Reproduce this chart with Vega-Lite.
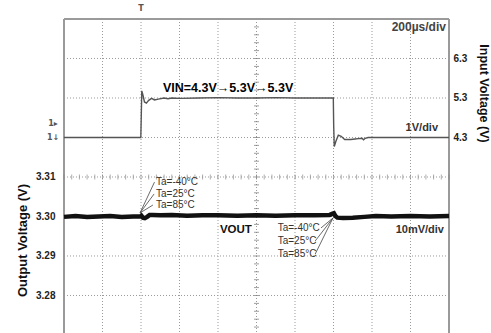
{
  "$schema": "https://vega.github.io/schema/vega-lite/v6.json",
  "width": 385,
  "height": 314,
  "autosize": {"type": "none"},
  "padding": {"left": 64, "top": 19, "right": 42, "bottom": 0},
  "background": "white",
  "config": {"view": {"stroke": null}, "font": "Liberation Sans"},
  "datasets": {
    "vgrid": [{"t": 200}, {"t": 400}, {"t": 600}, {"t": 800}, {"t": 1000}, {"t": 1200}, {"t": 1400}, {"t": 1600}, {"t": 1800}],
    "frame": [{"t": 0}, {"t": 2000}],
    "hgrid": [{"v": 3.28}, {"v": 3.29}, {"v": 3.3}, {"v": 3.31}, {"v": 3.32}, {"v": 3.33}, {"v": 3.34}],
    "top": [{"v": 3.35}],
    "hticks": [{"t":0},{"t":40},{"t":80},{"t":120},{"t":160},{"t":200},{"t":240},{"t":280},{"t":320},{"t":360},{"t":400},{"t":440},{"t":480},{"t":520},{"t":560},{"t":600},{"t":640},{"t":680},{"t":720},{"t":760},{"t":800},{"t":840},{"t":880},{"t":920},{"t":960},{"t":1000},{"t":1040},{"t":1080},{"t":1120},{"t":1160},{"t":1200},{"t":1240},{"t":1280},{"t":1320},{"t":1360},{"t":1400},{"t":1440},{"t":1480},{"t":1520},{"t":1560},{"t":1600},{"t":1640},{"t":1680},{"t":1720},{"t":1760},{"t":1800},{"t":1840},{"t":1880},{"t":1920},{"t":1960},{"t":2000}],
    "vticks": [{"v":3.272},{"v":3.274},{"v":3.276},{"v":3.278},{"v":3.28},{"v":3.282},{"v":3.284},{"v":3.286},{"v":3.288},{"v":3.29},{"v":3.292},{"v":3.294},{"v":3.296},{"v":3.298},{"v":3.3},{"v":3.302},{"v":3.304},{"v":3.306},{"v":3.308},{"v":3.31},{"v":3.312},{"v":3.314},{"v":3.316},{"v":3.318},{"v":3.32},{"v":3.322},{"v":3.324},{"v":3.326},{"v":3.328},{"v":3.33},{"v":3.332},{"v":3.334},{"v":3.336},{"v":3.338},{"v":3.34},{"v":3.342},{"v":3.344},{"v":3.346},{"v":3.348}],
    "vout": [
      {"t":0,"v":3.2999},{"t":60,"v":3.3001},{"t":120,"v":3.2999},{"t":180,"v":3.3},{"t":240,"v":3.3001},{"t":300,"v":3.2999},{"t":360,"v":3.3},{"t":398,"v":3.3},{"t":402,"v":3.3002},{"t":410,"v":3.2997},{"t":420,"v":3.2996},{"t":432,"v":3.2999},{"t":445,"v":3.3004},{"t":460,"v":3.3004},{"t":500,"v":3.3003},{"t":560,"v":3.3004},{"t":640,"v":3.3002},{"t":720,"v":3.3003},{"t":800,"v":3.3003},{"t":900,"v":3.3002},{"t":1000,"v":3.3003},{"t":1100,"v":3.3002},{"t":1200,"v":3.3003},{"t":1300,"v":3.3003},{"t":1380,"v":3.3004},{"t":1396,"v":3.3007},{"t":1402,"v":3.3008},{"t":1410,"v":3.3001},{"t":1420,"v":3.2997},{"t":1450,"v":3.2996},{"t":1500,"v":3.2997},{"t":1560,"v":3.2999},{"t":1620,"v":3.3001},{"t":1700,"v":3.3},{"t":1800,"v":3.3001},{"t":1900,"v":3.3},{"t":2000,"v":3.3001}
    ],
    "vin": [
      {"t":0,"vin":4.3},{"t":399,"vin":4.3},{"t":401,"vin":4.75},{"t":404,"vin":5.48},{"t":410,"vin":5.38},{"t":418,"vin":5.2},{"t":428,"vin":5.17},{"t":440,"vin":5.24},{"t":455,"vin":5.29},{"t":470,"vin":5.25},{"t":490,"vin":5.27},{"t":520,"vin":5.3},{"t":540,"vin":5.28},{"t":560,"vin":5.3},{"t":600,"vin":5.29},{"t":700,"vin":5.3},{"t":800,"vin":5.31},{"t":900,"vin":5.3},{"t":1000,"vin":5.3},{"t":1100,"vin":5.31},{"t":1200,"vin":5.3},{"t":1300,"vin":5.3},{"t":1399,"vin":5.3},{"t":1401,"vin":4.6},{"t":1404,"vin":4.07},{"t":1412,"vin":4.2},{"t":1425,"vin":4.36},{"t":1440,"vin":4.33},{"t":1458,"vin":4.25},{"t":1490,"vin":4.25},{"t":1512,"vin":4.26},{"t":1530,"vin":4.27},{"t":1548,"vin":4.28},{"t":1556,"vin":4.24},{"t":1565,"vin":4.28},{"t":1580,"vin":4.3},{"t":2000,"vin":4.3}
    ],
    "labels": [
      {"t": 514, "v": 3.3325, "text": "VIN=4.3V→5.3V→5.3V", "kind": "vin"},
      {"t": 1984, "v": 3.3479, "text": "200µs/div", "kind": "div12"},
      {"t": 1943, "v": 3.3223, "text": "1V/div", "kind": "div"},
      {"t": 1974, "v": 3.2966, "text": "10mV/div", "kind": "div"},
      {"t": 810, "v": 3.2966, "text": "VOUT", "kind": "vout"},
      {"t": 478, "v": 3.3087, "text": "Ta=-40°C", "kind": "ta"},
      {"t": 478, "v": 3.3057, "text": "Ta=25°C", "kind": "ta"},
      {"t": 478, "v": 3.3029, "text": "Ta=85°C", "kind": "ta"},
      {"t": 1110, "v": 3.2971, "text": "Ta=-40°C", "kind": "ta"},
      {"t": 1110, "v": 3.2938, "text": "Ta=25°C", "kind": "ta"},
      {"t": 1110, "v": 3.2905, "text": "Ta=85°C", "kind": "ta"},
      {"t": 400, "v": 3.3525, "text": "T", "kind": "mark"},
      {"t": -57, "v": 3.3234, "text": "1▸", "kind": "mark"},
      {"t": -57, "v": 3.3198, "text": "1↓", "kind": "mark"}
    ],
    "leaders": [
      {"t": 470, "v": 3.3087, "t2": 395, "v2": 3.3009},
      {"t": 468, "v": 3.3057, "t2": 395, "v2": 3.3009},
      {"t": 462, "v": 3.3029, "t2": 395, "v2": 3.3009},
      {"t": 1335, "v": 3.2971, "t2": 1397, "v2": 3.2996},
      {"t": 1305, "v": 3.2938, "t2": 1397, "v2": 3.2996},
      {"t": 1305, "v": 3.2905, "t2": 1397, "v2": 3.2996}
    ]
  },
  "layer": [
    {
      "data": {"name": "vgrid"},
      "mark": {"type": "rule", "color": "#9a9a9a", "strokeWidth": 1, "strokeDash": [1, 2]},
      "encoding": {"x": {"field": "t", "type": "quantitative", "scale": {"domain": [0, 2000], "nice": false, "zero": false}, "axis": null}}
    },
    {
      "data": {"name": "frame"},
      "mark": {"type": "rule", "color": "#9a9a9a", "strokeWidth": 2},
      "encoding": {"x": {"field": "t", "type": "quantitative", "scale": {"domain": [0, 2000], "nice": false, "zero": false}, "axis": null}}
    },
    {
      "data": {"name": "hgrid"},
      "mark": {"type": "rule", "color": "#9a9a9a", "strokeWidth": 1, "strokeDash": [1, 2]},
      "encoding": {
        "y": {
          "field": "v", "type": "quantitative",
          "scale": {"domain": [3.2705, 3.35], "nice": false, "zero": false},
          "axis": {
            "orient": "left", "values": [3.28, 3.29, 3.3, 3.31], "format": ".2f",
            "domain": false, "ticks": false, "grid": false,
            "labelFont": "Liberation Sans", "labelFontWeight": "bold", "labelFontSize": 10, "labelColor": "#222", "labelPadding": 9,
            "title": "Output Voltage (V)", "titleFont": "Liberation Sans", "titleFontSize": 13, "titleFontWeight": "bold", "titleColor": "#111",
            "titleX": -42, "titleY": 221, "titleAngle": -90, "titleAlign": "center", "titleBaseline": "middle"
          }
        }
      }
    },
    {
      "data": {"name": "top"},
      "mark": {"type": "rule", "color": "#9a9a9a", "strokeWidth": 2},
      "encoding": {"y": {"field": "v", "type": "quantitative", "scale": {"domain": [3.2705, 3.35], "nice": false, "zero": false}, "axis": null}}
    },
    {
      "data": {"name": "hticks"},
      "mark": {"type": "tick", "orient": "vertical", "color": "#8a8a8a", "size": 5, "thickness": 1},
      "encoding": {
        "x": {"field": "t", "type": "quantitative", "scale": {"domain": [0, 2000], "nice": false, "zero": false}, "axis": null},
        "y": {"datum": 3.31, "type": "quantitative", "scale": {"domain": [3.2705, 3.35], "nice": false, "zero": false}, "axis": null}
      }
    },
    {
      "data": {"name": "vticks"},
      "mark": {"type": "tick", "orient": "horizontal", "color": "#777", "size": 5, "thickness": 1},
      "encoding": {
        "x": {"datum": 1000, "type": "quantitative", "scale": {"domain": [0, 2000], "nice": false, "zero": false}, "axis": null},
        "y": {"field": "v", "type": "quantitative", "scale": {"domain": [3.2705, 3.35], "nice": false, "zero": false}, "axis": null}
      }
    },
    {
      "data": {"name": "vout"},
      "mark": {"type": "line", "color": "#111", "strokeWidth": 4.5},
      "encoding": {
        "x": {"field": "t", "type": "quantitative", "scale": {"domain": [0, 2000], "nice": false, "zero": false}, "axis": null},
        "y": {"field": "v", "type": "quantitative", "scale": {"domain": [3.2705, 3.35], "nice": false, "zero": false}, "axis": null}
      }
    },
    {
      "data": {"name": "leaders"},
      "mark": {"type": "rule", "color": "#444", "strokeWidth": 0.8},
      "encoding": {
        "x": {"field": "t", "type": "quantitative", "scale": {"domain": [0, 2000], "nice": false, "zero": false}, "axis": null},
        "x2": {"field": "t2"},
        "y": {"field": "v", "type": "quantitative", "scale": {"domain": [3.2705, 3.35], "nice": false, "zero": false}, "axis": null},
        "y2": {"field": "v2"}
      }
    },
    {
      "data": {"name": "labels"},
      "transform": [{"filter": "datum.kind === 'vin'"}],
      "mark": {"type": "text", "font": "Liberation Sans", "fontWeight": "bold", "fontSize": 12.5, "align": "left", "baseline": "middle", "color": "#000"},
      "encoding": {
        "x": {"field": "t", "type": "quantitative", "scale": {"domain": [0, 2000], "nice": false, "zero": false}, "axis": null},
        "y": {"field": "v", "type": "quantitative", "scale": {"domain": [3.2705, 3.35], "nice": false, "zero": false}, "axis": null},
        "text": {"field": "text"}
      }
    },
    {
      "data": {"name": "labels"},
      "transform": [{"filter": "datum.kind === 'div12'"}],
      "mark": {"type": "text", "font": "Liberation Sans", "fontWeight": "bold", "fontSize": 12, "align": "right", "baseline": "middle", "color": "#444"},
      "encoding": {
        "x": {"field": "t", "type": "quantitative", "scale": {"domain": [0, 2000], "nice": false, "zero": false}, "axis": null},
        "y": {"field": "v", "type": "quantitative", "scale": {"domain": [3.2705, 3.35], "nice": false, "zero": false}, "axis": null},
        "text": {"field": "text"}
      }
    },
    {
      "data": {"name": "labels"},
      "transform": [{"filter": "datum.kind === 'div'"}],
      "mark": {"type": "text", "font": "Liberation Sans", "fontWeight": "bold", "fontSize": 11, "align": "right", "baseline": "middle", "color": "#333"},
      "encoding": {
        "x": {"field": "t", "type": "quantitative", "scale": {"domain": [0, 2000], "nice": false, "zero": false}, "axis": null},
        "y": {"field": "v", "type": "quantitative", "scale": {"domain": [3.2705, 3.35], "nice": false, "zero": false}, "axis": null},
        "text": {"field": "text"}
      }
    },
    {
      "data": {"name": "labels"},
      "transform": [{"filter": "datum.kind === 'vout'"}],
      "mark": {"type": "text", "font": "Liberation Sans", "fontWeight": "bold", "fontSize": 11.5, "align": "left", "baseline": "middle", "color": "#111"},
      "encoding": {
        "x": {"field": "t", "type": "quantitative", "scale": {"domain": [0, 2000], "nice": false, "zero": false}, "axis": null},
        "y": {"field": "v", "type": "quantitative", "scale": {"domain": [3.2705, 3.35], "nice": false, "zero": false}, "axis": null},
        "text": {"field": "text"}
      }
    },
    {
      "data": {"name": "labels"},
      "transform": [{"filter": "datum.kind === 'ta'"}],
      "mark": {"type": "text", "font": "Liberation Sans Narrow, Liberation Sans", "fontSize": 10, "align": "left", "baseline": "middle", "color": "#333"},
      "encoding": {
        "x": {"field": "t", "type": "quantitative", "scale": {"domain": [0, 2000], "nice": false, "zero": false}, "axis": null},
        "y": {"field": "v", "type": "quantitative", "scale": {"domain": [3.2705, 3.35], "nice": false, "zero": false}, "axis": null},
        "text": {"field": "text"}
      }
    },
    {
      "data": {"name": "labels"},
      "transform": [{"filter": "datum.kind === 'mark'"}],
      "mark": {"type": "text", "font": "DejaVu Sans", "fontSize": 8, "fontWeight": "bold", "align": "center", "baseline": "middle", "color": "#555"},
      "encoding": {
        "x": {"field": "t", "type": "quantitative", "scale": {"domain": [0, 2000], "nice": false, "zero": false}, "axis": null},
        "y": {"field": "v", "type": "quantitative", "scale": {"domain": [3.2705, 3.35], "nice": false, "zero": false}, "axis": null},
        "text": {"field": "text"}
      }
    },
    {
      "data": {"name": "vin"},
      "mark": {"type": "line", "color": "#555", "strokeWidth": 1.4},
      "encoding": {
        "x": {"field": "t", "type": "quantitative", "scale": {"domain": [0, 2000], "nice": false, "zero": false}, "axis": null},
        "y": {
          "field": "vin", "type": "quantitative",
          "scale": {"domain": [-0.65, 7.3], "nice": false, "zero": false},
          "axis": {
            "orient": "right", "values": [4.3, 5.3, 6.3], "format": ".1f",
            "domain": false, "ticks": false, "grid": false,
            "labelFont": "Liberation Sans", "labelFontWeight": "bold", "labelFontSize": 10, "labelColor": "#222", "labelPadding": 4,
            "title": "Input Voltage (V)", "titleFont": "Liberation Sans", "titleFontSize": 12.5, "titleFontWeight": "bold", "titleColor": "#111",
            "titleX": 34, "titleY": 74, "titleAngle": 90, "titleAlign": "center", "titleBaseline": "middle"
          }
        }
      }
    }
  ],
  "resolve": {"scale": {"y": "independent"}, "axis": {"y": "independent"}}
}
